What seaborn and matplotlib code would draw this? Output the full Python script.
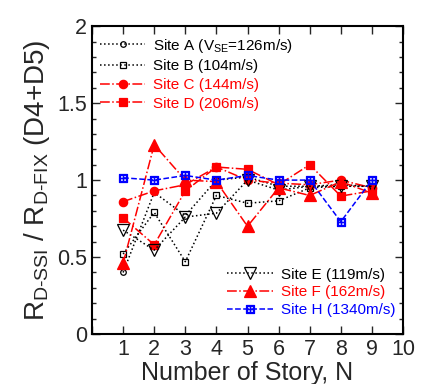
import numpy as np
import seaborn as sns
import matplotlib.pyplot as plt

stories = [1, 2, 3, 4, 5, 6, 7, 8, 9]

site_a = [0.40, 0.92, 0.77, 1.00, 1.02, 0.96, 0.96, 0.97, 0.96]
site_b = [0.52, 0.79, 0.47, 0.90, 0.85, 0.865, 0.95, 0.96, 0.96]
site_c = [0.86, 0.93, 0.97, 1.085, 1.00, 0.98, 0.97, 1.00, 0.95]
site_d = [0.755, 0.58, 0.93, 1.085, 1.07, 0.97, 1.10, 0.896, 0.93]
site_e = [0.675, 0.545, 0.76, 0.785, 1.00, 0.935, 0.96, 0.96, 0.96]
site_f = [0.46, 1.23, 1.00, 0.99, 0.70, 0.95, 0.90, 0.99, 0.915]
site_h = [1.015, 1.00, 1.03, 1.00, 1.03, 1.00, 1.00, 0.73, 1.00]

labels = ["Site A (V$_{\\rm SE}$=126m/s)", "Site B (104m/s)", "Site C (144m/s)",
          "Site D (206m/s)", "Site E (119m/s)", "Site F (162m/s)", "Site H (1340m/s)"]

sns.set_style("ticks")
plt.rcParams['font.family'] = ['Liberation Sans', 'DejaVu Sans']
plt.rcParams['mathtext.fontset'] = 'custom'
plt.rcParams['mathtext.rm'] = 'Liberation Sans'
plt.rcParams['mathtext.it'] = 'Liberation Sans'

fig = plt.figure(figsize=(4.26, 3.84), dpi=100)
ax = fig.add_axes([0.216, 0.130, 0.730, 0.802])

styles = [
    (site_a, 'black', 'o', ':', 'none', 4),
    (site_b, 'black', 's', ':', 'none', 5),
    (site_c, 'red', 'o', '-.', 'red', 6),
    (site_d, 'red', 's', '-.', 'red', 6),
    (site_e, 'black', 'v', ':', 'none', 8),
    (site_f, 'red', '^', '-.', 'red', 8),
    (site_h, 'blue', r'$\boxplus$', '--', 'blue', 6),
]

for (vals, col, mk, ls, fc, ms), lab in zip(styles, labels):
    sns.lineplot(x=stories, y=vals, ax=ax, color=col, marker=mk, linestyle=ls,
                 markerfacecolor=fc, markeredgecolor=col, markersize=ms,
                 markeredgewidth=0.9, linewidth=1.1, label=lab)

h, l = ax.get_legend_handles_labels()
leg1 = ax.legend(h[:4], l[:4], loc='upper left', frameon=False, fontsize=11,
                 labelcolor='linecolor', handlelength=3.0, handletextpad=0.5,
                 borderaxespad=0.1, labelspacing=0.3, bbox_to_anchor=(0.0, 0.99))
ax.add_artist(leg1)
ax.legend(h[4:], l[4:], loc='lower right', frameon=False, fontsize=11,
          labelcolor='linecolor', handlelength=3.0, handletextpad=0.5,
          borderaxespad=0.1, labelspacing=0.25, bbox_to_anchor=(1.0, 0.03))

ax.set_xlim(0, 10)
ax.set_ylim(0, 2)
ax.set_xticks(np.arange(0, 10.01, 1))
ax.set_xticklabels([''] + [str(i) for i in range(1, 11)])
ax.set_yticks([0, 0.5, 1, 1.5, 2])
ax.set_yticklabels(['0', '0.5', '1', '1.5', '2'])
ax.set_yticks(np.arange(0, 2.01, 0.1), minor=True)
ax.tick_params(direction='in', top=True, right=True, labelsize=15.5, length=6, width=1)
ax.tick_params(which='minor', direction='in', right=True, length=3, width=1)
for s in ax.spines.values():
    s.set_linewidth(1.5)
    s.set_color('black')

ax.set_xlabel('Number of Story, N', fontsize=18, labelpad=1)
ax.set_ylabel('R$_{\\rm D\u2010SSI}$ / R$_{\\rm D\u2010FIX}$ (D4+D5)', fontsize=20, labelpad=4)

fig.savefig('out.png', dpi=100)
